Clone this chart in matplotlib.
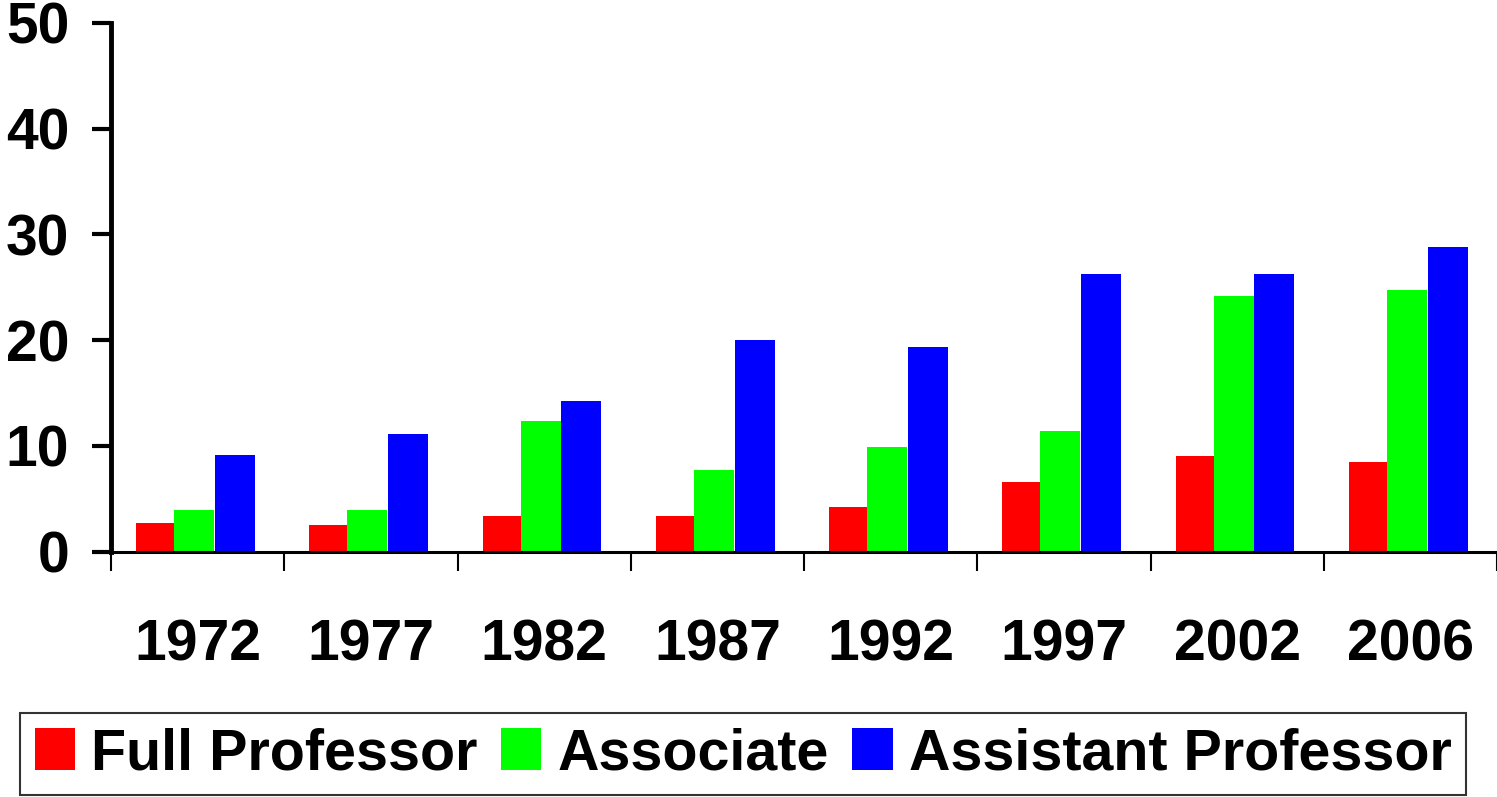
import numpy as np
import matplotlib
matplotlib.use("Agg")
import matplotlib.pyplot as plt

plt.rcParams['font.family'] = ['Liberation Sans', 'DejaVu Sans']
plt.rcParams['font.weight'] = 'bold'

# data
years = ['1972', '1977', '1982', '1987', '1992', '1997', '2002', '2006']
full_prof = [2.7, 2.5, 3.4, 3.4, 4.2, 6.6, 9.0, 8.5]
associate = [3.95, 3.9, 12.3, 7.7, 9.85, 11.4, 24.2, 24.7]
assistant = [9.1, 11.1, 14.2, 20.0, 19.3, 26.3, 26.3, 28.8]

series_names = ['Full Professor', 'Associate', 'Assistant Professor']
colors = ['#ff0000', '#00ff00', '#0000ff']

fig = plt.figure(figsize=(14.97, 7.97), dpi=100)
ax = fig.add_axes([111 / 1497, 1 - 551.5 / 797, 1 - 111 / 1497, (551.5 - 23) / 797])

x = np.arange(len(years))
w = 0.23
offsets = [-0.24, -0.02, 0.215]
for vals, off, col, name in zip([full_prof, associate, assistant], offsets, colors, series_names):
    ax.bar(x + off, vals, width=w, color=col, label=name, zorder=1)

ax.set_xlim(-0.5, len(years) - 0.5)
ax.set_ylim(0, 50)
ax.set_yticks([0, 10, 20, 30, 40, 50])

ax.set_xticks(x)
ax.set_xticklabels(years)
ax.set_xticks(np.arange(-0.5, len(years)), minor=True)
ax.tick_params(axis='x', which='major', length=0, pad=48, labelsize=41)
ax.tick_params(axis='x', which='minor', length=14, width=1.5, direction='out')
ax.tick_params(axis='y', length=14, width=3, pad=16, labelsize=41, direction='out')

for lab in ax.get_xticklabels() + ax.get_yticklabels():
    lab.set_fontweight('bold')

ax.spines['top'].set_visible(False)
ax.spines['right'].set_visible(False)
ax.spines['left'].set_linewidth(3.5)
ax.spines['bottom'].set_linewidth(2.2)
ax.spines['left'].set_zorder(3)
ax.spines['bottom'].set_zorder(3)

leg = fig.legend(loc='center', bbox_to_anchor=(743 / 1497, 1 - 754 / 797), ncol=3,
                 prop={'size': 41.3, 'weight': 'bold'}, frameon=True, fancybox=False,
                 handlelength=0.71, handleheight=0.73, handletextpad=0.28,
                 columnspacing=0.4, borderpad=0.25, borderaxespad=0)
leg.get_frame().set_edgecolor('black')
leg.get_frame().set_linewidth(1.5)

fig.savefig('out.png', dpi=100)
